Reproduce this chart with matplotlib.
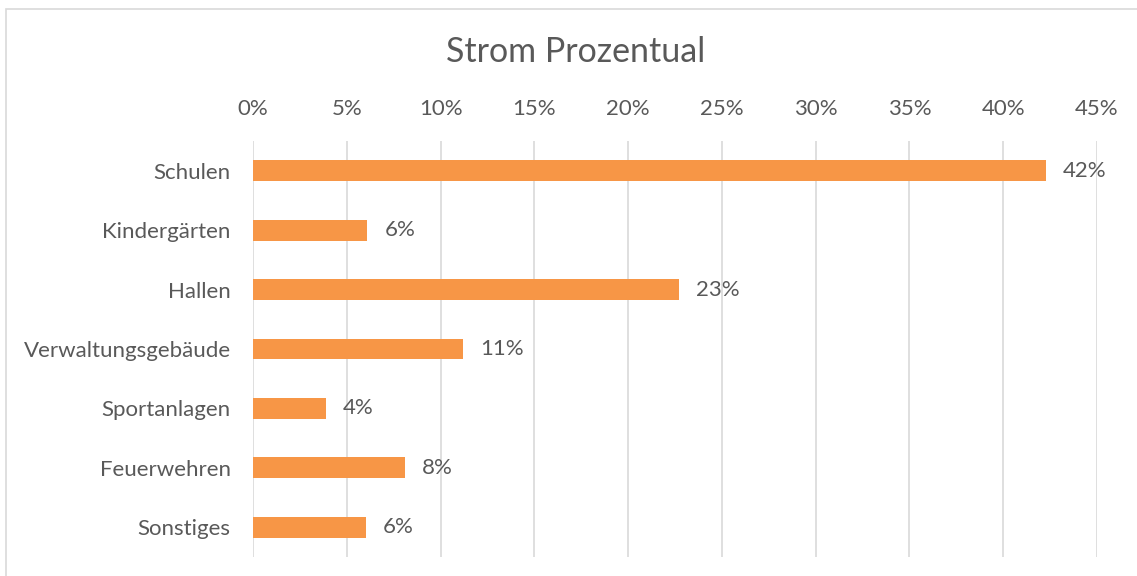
import matplotlib
matplotlib.use('Agg')
import matplotlib.pyplot as plt
import matplotlib.patches as mpatches
from matplotlib.ticker import FuncFormatter, MultipleLocator

plt.rcParams['font.family'] = ['Lato', 'DejaVu Sans']

categories = ['Schulen', 'Kindergärten', 'Hallen', 'Verwaltungsgebäude',
              'Sportanlagen', 'Feuerwehren', 'Sonstiges']
values = [42.3, 6.1, 22.7, 11.2, 3.9, 8.1, 6.0]
labels = ['42%', '6%', '23%', '11%', '4%', '8%', '6%']

TXT = '#595959'
BAR = '#F79646'

fig = plt.figure(figsize=(11.37, 5.76), dpi=100)
ax = fig.add_axes([253 / 1137, 19 / 576, 844 / 1137, 416 / 576])

y = list(range(len(categories)))
ax.barh(y, values, height=0.35, color=BAR, zorder=3)
ax.set_ylim(len(categories) - 0.5, -0.5)
ax.set_xlim(0, 45)
ax.xaxis.set_major_locator(MultipleLocator(5))
ax.xaxis.set_major_formatter(FuncFormatter(lambda v, p: f'{v:.0f}%'))
ax.xaxis.tick_top()
ax.set_yticks(y)
ax.set_yticklabels(categories)
ax.tick_params(axis='both', length=0, labelsize=16, colors=TXT)
ax.tick_params(axis='x', pad=16)
ax.tick_params(axis='y', pad=16)
ax.grid(axis='x', color='#D9D9D9', linewidth=1.2, zorder=0)
for s in ax.spines.values():
    s.set_visible(False)

for yi, v, lab in zip(y, values, labels):
    ax.text(v + 0.9, yi, lab, va='center', ha='left', fontsize=16, color=TXT)

fig.text(576 / 1137, 1 - 52 / 576, 'Strom Prozentual', ha='center', va='center',
         fontsize=24.5, color=TXT)

fig.patches.append(mpatches.Rectangle((6 / 1137, -0.01), 1.0, 1 - 9 / 576 + 0.01,
                                      transform=fig.transFigure, fill=False,
                                      edgecolor='#D9D9D9', linewidth=1.2))

fig.savefig('out.png', dpi=100)
